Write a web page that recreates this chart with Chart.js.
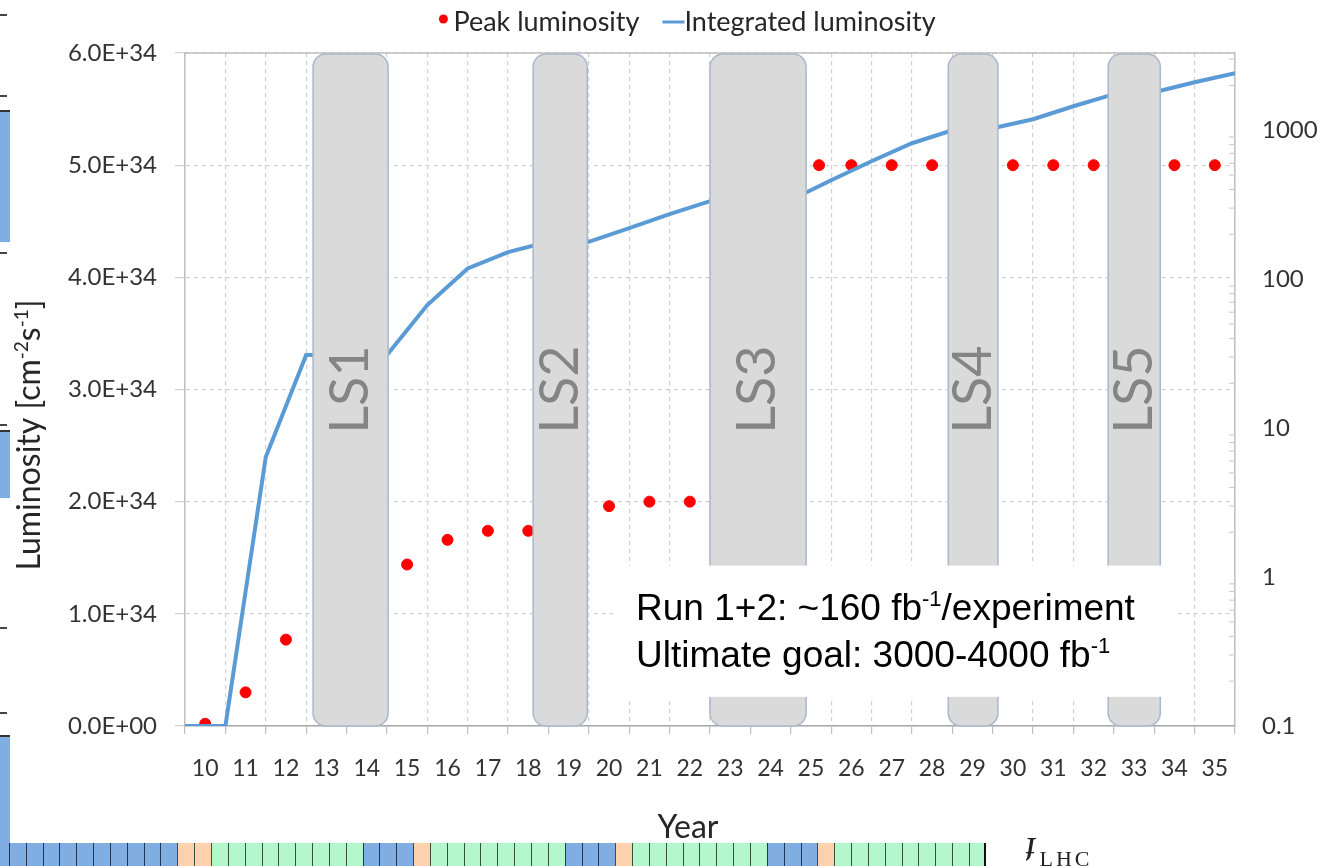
<!DOCTYPE html>
<html>
<head>
<meta charset="utf-8">
<script src="https://cdn.jsdelivr.net/npm/chart.js@4.4.1/dist/chart.umd.min.js"></script>
<style>
  html, body { margin: 0; padding: 0; background: #fff; }
  #wrap { position: relative; width: 1320px; height: 866px; overflow: hidden; }
  #ch1 { position: absolute; left: 0; top: 0; }
  .edge { position: absolute; left: 0; width: 10px; background: #7eaee3; border-top: 2px solid #333; }
  .mark { position: absolute; left: 0; width: 7px; height: 0; border-top: 2px solid #444; }
  #strip { position: absolute; left: -8px; top: 843px; height: 23px; display: flex; }
  #strip div { box-sizing: border-box; width: 16.85px; height: 23px; border-left: 1.5px solid #35523f; }
  #lhc { position: absolute; left: 1026px; top: 838px; height: 28px; width: 130px; overflow: hidden;
         font-family: "Liberation Serif", serif; color: #222; }
</style>
</head>
<body>
<div id="wrap">
  <canvas id="ch1" width="1320" height="866"></canvas>
  <div class="mark" style="top:14px"></div>
  <div class="mark" style="top:95px"></div>
  <div class="edge" style="top:110px;height:130px"></div>
  <div class="mark" style="top:252px"></div>
  <div class="mark" style="top:424px"></div>
  <div class="edge" style="top:430px;height:66px"></div>
  <div class="mark" style="top:627px"></div>
  <div class="mark" style="top:712px"></div>
  <div class="edge" style="top:735px;height:131px"></div>
  <div id="strip"></div>
  <div id="lhc"><span style="position:relative;top:-14px;font-size:34px;font-style:italic">ɟ</span>&nbsp;<span style="position:relative;top:-2px;font-size:22px;letter-spacing:3px">LHC</span></div>
</div>
<script>
// x axis categories (year 20xx)
const years = ['10','11','12','13','14','15','16','17','18','19','20','21','22','23','24','25','26','27','28','29','30','31','32','33','34','35'];

// peak luminosity (cm-2 s-1), one point per running year
const peakYears = [10, 11, 12, 15, 16, 17, 18, 20, 21, 22, 25.2, 26, 27, 28, 30, 31, 32, 34, 35];
const peakLum = [0.02e34, 0.30e34, 0.77e34, 1.44e34, 1.66e34, 1.74e34, 1.74e34, 1.96e34, 2.0e34, 2.0e34,
                 5.0e34, 5.0e34, 5.0e34, 5.0e34, 5.0e34, 5.0e34, 5.0e34, 5.0e34, 5.0e34];

// integrated luminosity (fb-1), values at end of each year
const intYears = [9.5, 10.5, 11.5, 12.5, 14.5, 15.5, 16.5, 17.5, 18.5, 19.5, 20.5, 21.5, 22.5, 24.5,
                  25.5, 26.5, 27.5, 28.5, 29.5, 30.5, 31.5, 32.5, 33.5, 34.5, 35.5];
const intLum = [0.1, 0.1, 6.4, 31, 31, 67, 118, 152, 178, 178, 220, 273, 334, 340,
                462, 619, 818, 1000, 1030, 1186, 1449, 1746, 1800, 2100, 2413];

// long shutdowns
const lsLabels = ['LS1', 'LS2', 'LS3', 'LS4', 'LS5'];
const lsStart = [12.67, 18.12, 22.5, 28.4, 32.36];
const lsEnd = [14.53, 19.46, 24.88, 29.63, 33.65];

// right axis labels
const rightTicks = [0.1, 1, 10, 100, 1000];

// strip at the bottom of the slide
const stripRuns = [['b', 11], ['o', 2], ['g', 9], ['b', 3], ['o', 1], ['g', 8], ['b', 3], ['o', 1], ['g', 8], ['b', 3], ['o', 1], ['g', 9]];
const stripColors = { b: '#80aee2', o: '#fdd2ac', g: '#b5f7cd' };

const strip = document.getElementById('strip');
stripRuns.forEach(([c, n]) => {
  for (let i = 0; i < n; i++) {
    const d = document.createElement('div');
    d.style.background = stripColors[c];
    if (c === 'b') d.style.borderLeftColor = '#233650';
    strip.appendChild(d);
  }
});
strip.lastChild.style.borderRight = '2px solid #111';

Chart.defaults.font.family = 'Lato';

// draws text with superscript parts, returns nothing
function richText(ctx, x, y, parts, size, family) {
  parts.forEach(([t, sup]) => {
    ctx.font = (sup ? Math.round(size * 0.6) : size) + 'px ' + family;
    ctx.fillText(t, x, sup ? y - size * 0.36 : y);
    x += ctx.measureText(t).width;
  });
}
function richWidth(ctx, parts, size, family) {
  let w = 0;
  parts.forEach(([t, sup]) => {
    ctx.font = (sup ? Math.round(size * 0.6) : size) + 'px ' + family;
    w += ctx.measureText(t).width;
  });
  return w;
}

const overlays = {
  id: 'overlays',
  afterDatasetsDraw(chart) {
    const { ctx, chartArea: a, scales } = chart;
    const x2 = scales.x2, y = scales.y, y1 = scales.y1;
    ctx.save();
    // top frame
    ctx.strokeStyle = '#bfbfbf'; ctx.lineWidth = 1.5;
    ctx.beginPath(); ctx.moveTo(a.left, a.top); ctx.lineTo(a.right, a.top); ctx.stroke();
    // minor log ticks on right axis
    ctx.strokeStyle = '#c8c8c8'; ctx.lineWidth = 1;
    rightTicks.forEach(d => {
      for (let m = 2; m < 10; m++) {
        const v = d * m;
        if (v > y1.max) continue;
        const py = y1.getPixelForValue(v);
        ctx.beginPath(); ctx.moveTo(a.right - 6, py); ctx.lineTo(a.right, py); ctx.stroke();
      }
    });
    // long shutdown boxes
    lsStart.forEach((s, i) => {
      const l = x2.getPixelForValue(s), r = x2.getPixelForValue(lsEnd[i]);
      ctx.beginPath();
      ctx.roundRect(l, a.top + 1, r - l, a.bottom - a.top - 1, 13);
      ctx.fillStyle = '#dadada'; ctx.fill();
      ctx.strokeStyle = '#aab8cc'; ctx.lineWidth = 1.5; ctx.stroke();
      ctx.save();
      ctx.translate((l + r) / 2, y.getPixelForValue(3.0e34));
      ctx.rotate(-Math.PI / 2);
      ctx.fillStyle = '#858585'; ctx.font = '54px Lato';
      ctx.textAlign = 'center'; ctx.textBaseline = 'middle';
      ctx.fillText(lsLabels[i], 0, 0);
      ctx.restore();
    });
    // note box
    const nx0 = x2.getPixelForValue(20.1), nx1 = x2.getPixelForValue(34.0);
    const ny0 = y.getPixelForValue(1.43e34), ny1 = y.getPixelForValue(0.26e34);
    ctx.fillStyle = '#fff';
    ctx.fillRect(nx0, ny0, nx1 - nx0, ny1 - ny0);
    ctx.fillStyle = '#000'; ctx.textBaseline = 'alphabetic'; ctx.textAlign = 'left';
    richText(ctx, nx0 + 23, ny0 + 54, [['Run 1+2: ~160 fb', false], ['-1', true], ['/experiment', false]], 37, '"Liberation Sans"');
    richText(ctx, nx0 + 23, ny0 + 101, [['Ultimate goal: 3000-4000 fb', false], ['-1', true]], 37, '"Liberation Sans"');
    ctx.restore();
  },
  afterDraw(chart) {
    const { ctx } = chart;
    const ds = chart.data.datasets;
    ctx.save();
    // legend
    ctx.font = '27px Lato';
    ctx.textBaseline = 'middle'; ctx.textAlign = 'left';
    const w1 = ctx.measureText(ds[0].label).width, w2 = ctx.measureText(ds[1].label).width;
    const total = 17 + w1 + 23 + 22 + w2;
    let x = 686 - total / 2;
    const yc = 22;
    ctx.fillStyle = ds[0].backgroundColor;
    ctx.beginPath(); ctx.arc(x + 7, yc - 3, 4.5, 0, Math.PI * 2); ctx.fill();
    ctx.fillStyle = '#262626';
    ctx.fillText(ds[0].label, x + 17, yc);
    x += 17 + w1 + 23;
    ctx.strokeStyle = ds[1].borderColor; ctx.lineWidth = 3;
    ctx.beginPath(); ctx.moveTo(x, yc); ctx.lineTo(x + 22, yc); ctx.stroke();
    ctx.fillText(ds[1].label, x + 22, yc);
    // axis titles
    ctx.fillStyle = '#262626';
    ctx.textBaseline = 'middle'; ctx.textAlign = 'center';
    ctx.font = '32px Lato';
    ctx.fillText('Year', 688, 828);
    const tparts = [['Luminosity [cm', false], ['-2', true], ['s', false], ['-1', true], [']', false]];
    const tw = richWidth(ctx, tparts, 32, 'Lato');
    ctx.translate(29, 435);
    ctx.rotate(-Math.PI / 2);
    ctx.textAlign = 'left'; ctx.textBaseline = 'alphabetic';
    richText(ctx, -tw / 2, 11, tparts, 32, 'Lato');
    ctx.restore();
  }
};

const ctx = document.getElementById('ch1').getContext('2d');
const tickColor = '#333333';

const myChart = new Chart(ctx, {
  type: 'line',
  data: {
    labels: years,
    datasets: [
      {
        type: 'scatter',
        label: 'Peak luminosity',
        data: peakYears.map((x, i) => ({ x: x, y: peakLum[i] })),
        xAxisID: 'x2', yAxisID: 'y',
        backgroundColor: '#ff0000', borderColor: '#ff0000',
        pointRadius: 5.5, pointHoverRadius: 5.5, showLine: false,
        order: 2
      },
      {
        type: 'line',
        label: 'Integrated luminosity',
        data: intYears.map((x, i) => ({ x: x, y: intLum[i] })),
        xAxisID: 'x2', yAxisID: 'y1',
        borderColor: '#5b9bd5', backgroundColor: '#5b9bd5',
        borderWidth: 4, pointRadius: 0, tension: 0,
        order: 1
      }
    ]
  },
  options: {
    responsive: false,
    animation: false,
    layout: { padding: { top: 53, left: 0, right: 0, bottom: 0 } },
    plugins: { legend: { display: false }, tooltip: { enabled: false } },
    scales: {
      x: {
        type: 'category', offset: true,
        afterFit(s) { s.height = 140; },
        grid: { offset: true, color: '#d0d0d0', lineWidth: 1.2, tickLength: 8, tickColor: '#bfbfbf', tickBorderDash: [] },
        border: { display: true, color: '#a6a6a6', width: 1.5, dash: [4, 4] },
        ticks: { autoSkip: false, maxRotation: 0, padding: 21, color: tickColor, font: { size: 23 } }
      },
      x2: { type: 'linear', display: false, min: 9.5, max: 35.5 },
      y: {
        position: 'left', min: 0, max: 6e34,
        afterFit(s) { s.width = 185; },
        ticks: {
          stepSize: 1e34, padding: 18, color: tickColor, font: { size: 24 },
          callback: v => v === 0 ? '0.0E+00' : (v / 1e34).toFixed(1) + 'E+34'
        },
        grid: { color: '#d0d0d0', lineWidth: 1.2, tickLength: 10, tickBorderDash: [] },
        border: { display: true, color: '#bfbfbf', width: 1.5, dash: [4, 4] }
      },
      y1: {
        type: 'logarithmic', position: 'right', min: 0.1, max: 3300,
        afterFit(s) { s.width = 85; },
        afterBuildTicks(s) { s.ticks = rightTicks.map(v => ({ value: v })); },
        ticks: { padding: 27, color: tickColor, font: { size: 24 }, callback: v => String(v) },
        grid: { drawOnChartArea: false, drawTicks: false },
        border: { display: true, color: '#bfbfbf', width: 1.5 }
      }
    }
  },
  plugins: [overlays]
});
</script>
</body>
</html>
